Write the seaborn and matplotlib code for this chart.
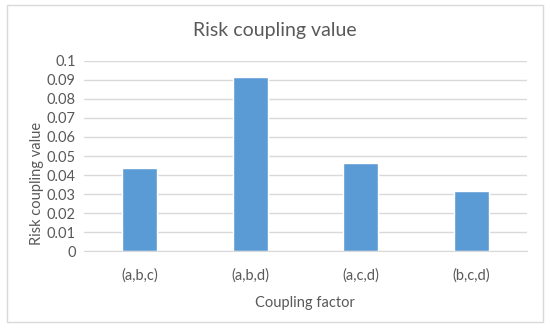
import numpy as np
import pandas as pd
import seaborn as sns
import matplotlib.pyplot as plt
from matplotlib.patches import Rectangle

# data
factors = ['(a,b,c)', '(a,b,d)', '(a,c,d)', '(b,c,d)']
coupling_values = [0.0435, 0.0915, 0.0462, 0.0318]
y_ticks = [0, 0.01, 0.02, 0.03, 0.04, 0.05, 0.06, 0.07, 0.08, 0.09, 0.1]
y_tick_labels = ['0', '0.01', '0.02', '0.03', '0.04', '0.05', '0.06', '0.07', '0.08', '0.09', '0.1']

sns.set_style('white')
plt.rcParams['font.family'] = ['Lato', 'DejaVu Sans']
text_col = '#595959'

df = pd.DataFrame({'factor': factors, 'value': coupling_values})

fig = plt.figure(figsize=(5.5, 3.31), dpi=100)
ax = fig.add_axes([0.1527, 0.2408, 0.805, 0.5758])
# outer chart frame
fig.patches.append(Rectangle((7 / 550, 9 / 331), 536 / 550, 317 / 331, transform=fig.transFigure,
                             fill=False, edgecolor='#D9D9D9', linewidth=1))

sns.barplot(data=df, x='factor', y='value', color='#5B9BD5', width=0.316, saturation=1, ax=ax, zorder=2)

# set axis
ax.set_ylim(0, 0.1)
ax.set_xlim(-0.5, 3.5)
ax.set_yticks(y_ticks)
ax.set_yticklabels(y_tick_labels)
ax.yaxis.grid(True, color='#D9D9D9', linewidth=1, zorder=0)
ax.set_axisbelow(True)
for s in ['top', 'right', 'left']:
    ax.spines[s].set_visible(False)
ax.spines['bottom'].set_color('#D9D9D9')
ax.tick_params(axis='y', length=0, labelsize=10.5, colors=text_col, pad=6)
ax.tick_params(axis='x', length=0, labelsize=10.5, colors=text_col, pad=12)
ax.set_xlabel('Coupling factor', fontsize=10.5, color=text_col, labelpad=10)
ax.set_ylabel('Risk coupling value', fontsize=10.5, color=text_col)
ax.yaxis.set_label_coords(-0.09, 0.358)
fig.text(0.5, 1 - 36 / 331, 'Risk coupling value', fontsize=14, color=text_col, ha='center', va='baseline')

fig.savefig('out.png', dpi=100)
